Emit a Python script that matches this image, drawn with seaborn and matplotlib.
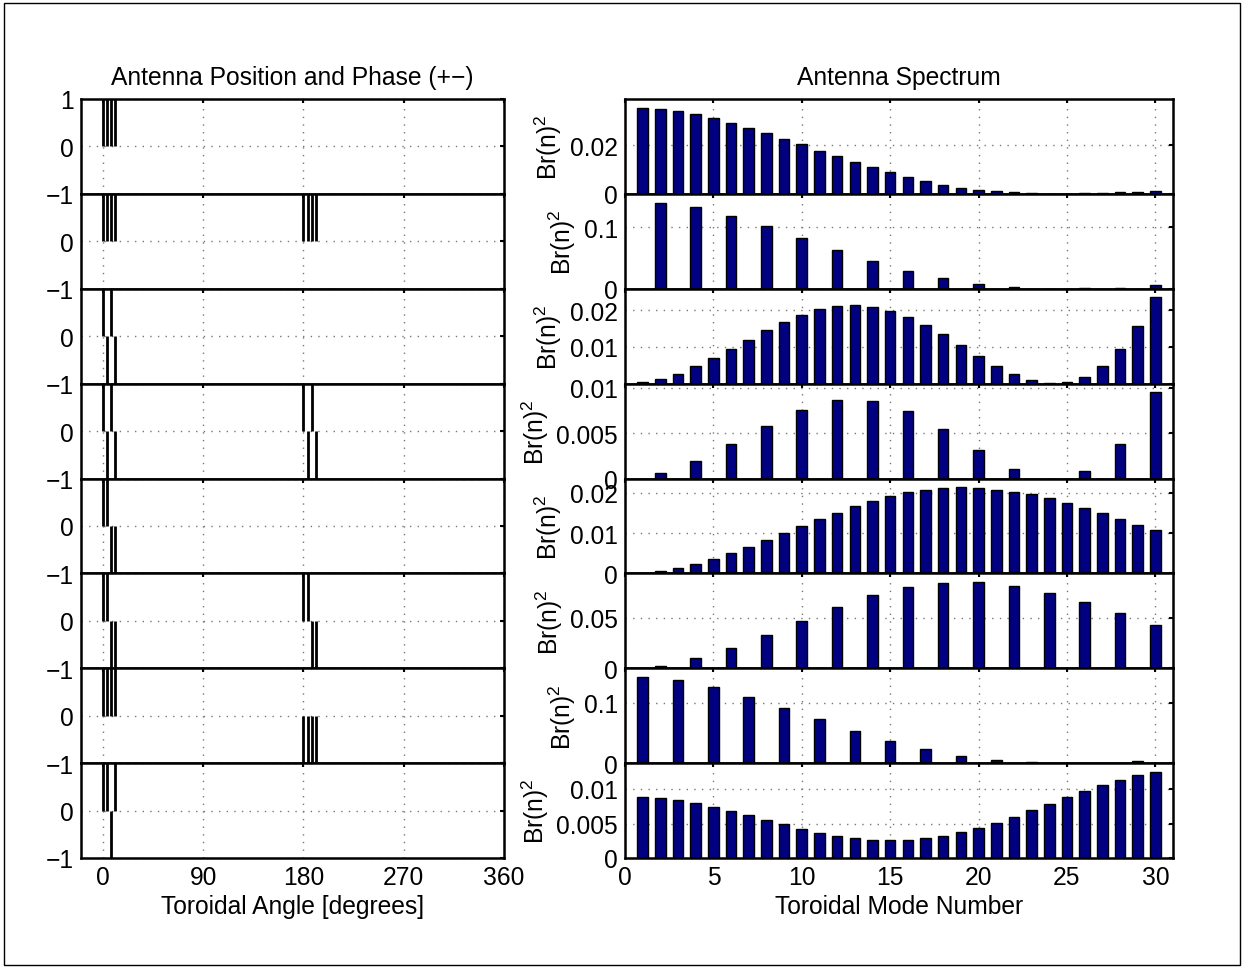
import numpy as np
import matplotlib
matplotlib.use("Agg")
import matplotlib.pyplot as plt
import matplotlib.patches as patches
import seaborn as sns

# antenna angles (degrees) and sign of current in each of the 8 configurations
angles = [0, 3.75, 7.5, 11.25, 180, 183.75, 187.5, 191.25]
phase_1 = [1, 1, 1, 1, 0, 0, 0, 0]
phase_2 = [1, 1, 1, 1, 1, 1, 1, 1]
phase_3 = [1, -1, 1, -1, 0, 0, 0, 0]
phase_4 = [1, -1, 1, -1, 1, -1, 1, -1]
phase_5 = [1, 1, -1, -1, 0, 0, 0, 0]
phase_6 = [1, 1, -1, -1, 1, 1, -1, -1]
phase_7 = [1, 1, 1, 1, -1, -1, -1, -1]
phase_8 = [1, 1, -1, 1, 0, 0, 0, 0]

# toroidal mode numbers and spectra Br(n)^2
modes = list(range(1, 31))
spec_1 = [0.0356, 0.0349, 0.0342, 0.0328, 0.0312, 0.0294, 0.0273, 0.0251, 0.0228, 0.0204,
          0.0179, 0.0156, 0.0131, 0.0110, 0.0090, 0.0070, 0.0052, 0.0037, 0.0026, 0.0017,
          0.0010, 0.0006, 0.0003, 0.0000, 0.0001, 0.0002, 0.0004, 0.0006, 0.0009, 0.0012]
spec_2 = [0, 0.1405, 0, 0.1324, 0, 0.1190, 0, 0.1020, 0, 0.0827,
          0, 0.0632, 0, 0.0454, 0, 0.0292, 0, 0.0168, 0, 0.0081,
          0, 0.0027, 0, 0.0003, 0, 0.0005, 0, 0.0020, 0, 0.0060]
spec_3 = [0.0004, 0.0013, 0.0027, 0.0047, 0.0070, 0.0094, 0.0120, 0.0145, 0.0167, 0.0188,
          0.0202, 0.0211, 0.0213, 0.0210, 0.0199, 0.0182, 0.0160, 0.0134, 0.0106, 0.0076,
          0.0048, 0.0026, 0.0010, 0.0001, 0.0004, 0.0019, 0.0049, 0.0095, 0.0157, 0.0235]
spec_4 = [0, 0.0006, 0, 0.0019, 0, 0.0038, 0, 0.0058, 0, 0.0076,
          0, 0.0086, 0, 0.0085, 0, 0.0074, 0, 0.0054, 0, 0.0031,
          0, 0.0011, 0, 0.0000, 0, 0.0008, 0, 0.0038, 0, 0.0095]
spec_5 = [0.0002, 0.0006, 0.0014, 0.0024, 0.0036, 0.0050, 0.0066, 0.0083, 0.0100, 0.0118,
          0.0135, 0.0151, 0.0166, 0.0180, 0.0192, 0.0201, 0.0207, 0.0212, 0.0214, 0.0213,
          0.0208, 0.0203, 0.0196, 0.0186, 0.0175, 0.0161, 0.0149, 0.0135, 0.0121, 0.0107]
spec_6 = [0, 0.0023, 0, 0.0098, 0, 0.0203, 0, 0.0333, 0, 0.0471,
          0, 0.0608, 0, 0.0722, 0, 0.0804, 0, 0.0846, 0, 0.0853,
          0, 0.0817, 0, 0.0748, 0, 0.0654, 0, 0.0542, 0, 0.0428]
spec_7 = [0.1424, 0, 0.1370, 0, 0.1255, 0, 0.1098, 0, 0.0918, 0,
          0.0723, 0, 0.0538, 0, 0.0364, 0, 0.0228, 0, 0.0120, 0,
          0.0054, 0, 0.0016, 0, 0.0001, 0, 0.0010, 0, 0.0038, 0]
spec_8 = [0.00890, 0.00876, 0.00837, 0.00794, 0.00737, 0.00679, 0.00617, 0.00550, 0.00488, 0.00421,
          0.00364, 0.00321, 0.00287, 0.00263, 0.00258, 0.00263, 0.00287, 0.00325, 0.00378, 0.00435,
          0.00512, 0.00598, 0.00689, 0.00785, 0.00880, 0.00967, 0.01053, 0.01130, 0.01196, 0.01250]

phases = [phase_1, phase_2, phase_3, phase_4, phase_5, phase_6, phase_7, phase_8]
spectra = [spec_1, spec_2, spec_3, spec_4, spec_5, spec_6, spec_7, spec_8]
yticks_spec = [[0, 0.02], [0, 0.1], [0, 0.01, 0.02], [0, 0.005, 0.01],
               [0, 0.01, 0.02], [0, 0.05], [0, 0.1], [0, 0.005, 0.01]]

sns.set_style("white")
plt.rcParams['font.family'] = ['Liberation Sans', 'DejaVu Sans']
plt.rcParams['mathtext.default'] = 'regular'
plt.rcParams['text.color'] = 'k'
plt.rcParams['axes.labelcolor'] = 'k'
plt.rcParams['axes.titlecolor'] = 'k'
FS = 17.7
plt.rcParams['font.size'] = FS

fig = plt.figure(figsize=(12.44, 9.70), dpi=100)

W, H = 1244.0, 970.0
top, bottom = 100.0, 859.0
ph = (bottom - top) / 8
grid_kw = dict(color='#777777', linestyle=(0, (1, 4.5)), linewidth=1.0)


def style_axes(ax):
    for s in ax.spines.values():
        s.set_linewidth(1.8)
        s.set_color('k')
        s.set_zorder(5)
    ax.tick_params(direction='in', length=3, width=1.5, top=True, right=True,
                   labelsize=FS, pad=5, colors='k')
    ax.grid(True, **grid_kw)
    ax.set_axisbelow(True)


left_axes = []
right_axes = []
for i in range(8):
    y0 = 1 - (top + ph * (i + 1)) / H
    axl = fig.add_axes([80.5 / W, y0, (504 - 80.5) / W, ph / H])
    axr = fig.add_axes([625 / W, y0, (1173 - 625) / W, ph / H])
    left_axes.append(axl)
    right_axes.append(axr)

    # antenna positions and phase
    axl.vlines(angles, 0, phases[i], colors='k', linewidth=2.0)
    axl.set_xlim(-20, 360)
    axl.set_ylim(-1, 1)
    axl.set_xticks([0, 90, 180, 270, 360])
    axl.set_yticks([-1, 0, 1])
    # the top "1" of lower panels sits under the "-1" of the panel above
    axl.set_yticklabels(['\u22121', '0', '1' if i == 0 else ''])
    style_axes(axl)

    # spectrum
    sns.barplot(x=modes, y=spectra[i], native_scale=True, width=0.6,
                color='#000080', saturation=1, edgecolor='k', linewidth=1.0, ax=axr)
    axr.set_xlim(0, 31)
    axr.set_ylim(0, 1.1 * max(spectra[i]))
    axr.set_xticks(range(0, 31, 5))
    axr.set_yticks(yticks_spec[i])
    axr.set_yticklabels([f"{t:g}" for t in yticks_spec[i]])
    axr.set_ylabel('Br(n)$^{2}$', fontsize=FS, labelpad=4)
    style_axes(axr)

    if i < 7:
        axl.set_xticklabels([])
        axr.set_xticklabels([])
    else:
        axr.set_xticklabels([str(t) for t in range(0, 31, 5)])

# third spectrum panel: its zero label sits under the 0.01 of the next panel
right_axes[2].set_yticklabels(['', '0.01', '0.02'])

left_axes[0].set_title('Antenna Position and Phase (+\u2212)', fontsize=FS, pad=11)
right_axes[0].set_title('Antenna Spectrum', fontsize=FS, pad=11)
left_axes[-1].set_xlabel('Toroidal Angle [degrees]', fontsize=FS, labelpad=4)
right_axes[-1].set_xlabel('Toroidal Mode Number', fontsize=FS, labelpad=4)

fig.patches.append(patches.Rectangle((4 / W, 4 / H), 1 - 8 / W, 1 - 8 / H, fill=False,
                                     edgecolor='k', linewidth=1.0, transform=fig.transFigure))

fig.savefig('out.png', dpi=100)
